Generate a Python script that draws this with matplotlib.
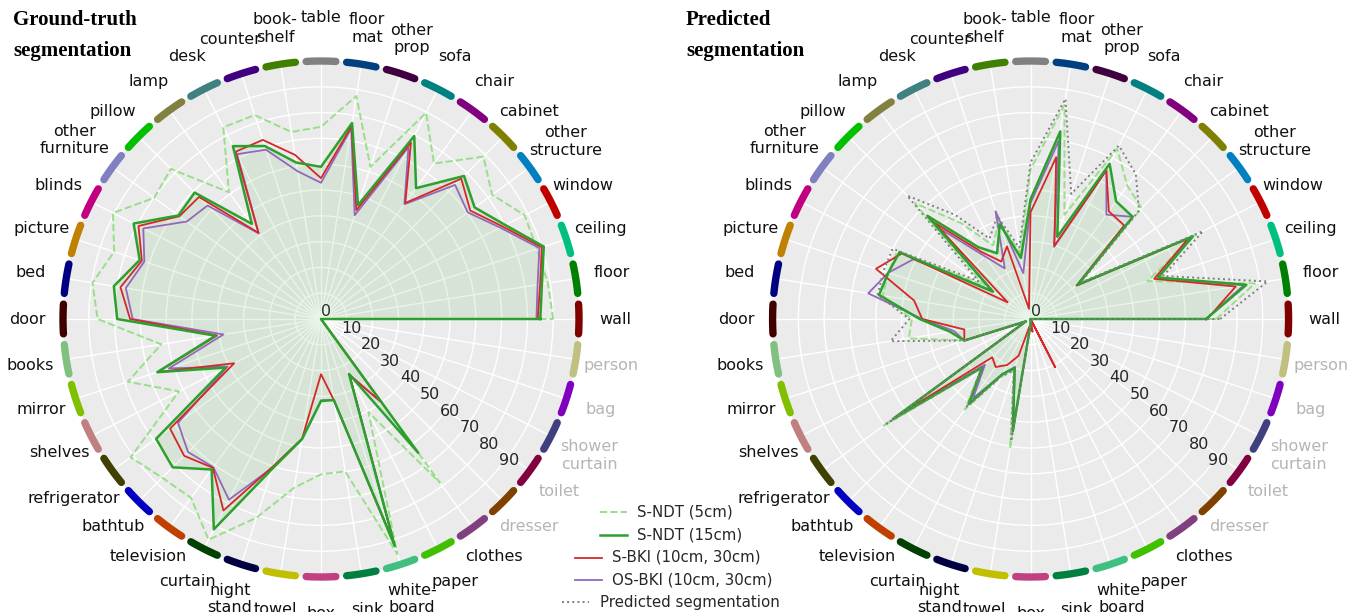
import numpy as np
import matplotlib.pyplot as plt

# 40 NYU classes, counter-clockwise from "wall" at 0 deg
categories = ["wall", "floor", "ceiling", "window", "other\nstructure", "cabinet", "chair",
              "sofa", "other\nprop", "floor\nmat", "table", "book-\nshelf", "counter", "desk",
              "lamp", "pillow", "other\nfurniture", "blinds", "picture", "bed", "door", "books",
              "mirror", "shelves", "refrigerator", "bathtub", "television", "curtain",
              "night\nstand", "towel", "box", "sink", "white-\nboard", "paper", "clothes",
              "dresser", "toilet", "shower\ncurtain", "bag", "person"]
absent = ["dresser", "toilet", "shower\ncurtain", "bag", "person"]

class_colors = ["#800000", "#008000", "#00c080", "#c00000", "#0080c0", "#808000", "#800080",
                "#008080", "#400040", "#004080", "#808080", "#408000", "#400080", "#408080",
                "#808040", "#00c000", "#8080c0", "#c00080", "#c08000", "#000080", "#400000",
                "#80c080", "#80c000", "#c08080", "#404000", "#0000c0", "#c04000", "#004000",
                "#000040", "#c0c000", "#c04080", "#008040", "#40c080", "#40c000", "#804080",
                "#804000", "#800040", "#404080", "#8000c0", "#c0c080"]

# ground-truth segmentation
gt_ndt5 = [90, 89, 88, 88.6, 82, 89, 74.5, 89.7, 62, 87.5, 74.5, 73.4, 83.1, 83.4, 60.7, 82.3,
           79.9, 90.5, 84.3, 89.7, 86.6, 62.7, 78.7, 61.8, 91.2, 87, 85.7, 96, 81, 66.2, 60.2,
           59.8, 95.8, 40.5, 78.4, 0, 0, 0, 0, 0]
gt_ndt15 = [85, 86.7, 90.8, 80.2, 73.6, 78.4, 62.7, 79.6, 46.4, 76.9, 59, 61.4, 70.5, 75.2, 45.6,
            69.3, 68.3, 81.5, 73.9, 81.3, 79, 41.4, 66.7, 41.5, 79, 81.3, 72.1, 91.5, 61, 47.2,
            31.8, 31.8, 92.5, 23.9, 64.1, 0, 0, 0, 0, 0]
gt_sbki = [84, 86, 90, 79, 71.5, 76.9, 55.6, 76.8, 44.4, 75.7, 54.6, 64.4, 73, 72.8, 41.3, 66.9,
           67.8, 79.4, 73, 78.7, 74, 40.8, 66.5, 37.8, 72.3, 75, 71.3, 83.3, 60, 47, 21.4, 31.8,
           92, 24.3, 40, 0, 0, 0, 0, 0]
gt_osbki = [83.5, 85, 89, 78, 70.3, 73.5, 55, 74.7, 42.3, 74.7, 52.8, 58, 69, 71.7, 41, 62.2,
            64.3, 77.3, 72, 76.6, 73, 38.3, 62, 40.6, 68.5, 72.9, 71, 78.6, 60.5, 47, 31.5, 31.8,
            91.5, 24.3, 40, 0, 0, 0, 0, 0]

# predicted segmentation
pr_ndt5 = [72, 88, 47.6, 72, 23, 60.8, 63.8, 74, 42.5, 84, 58, 26, 40, 32, 46, 63.5, 22, 58,
           58, 58, 46, 47.8, 27, 2, 71, 27, 43.4, 25, 21, 50.8, 2, 0, 0, 0, 0, 0, 0, 0, 0, 0]
pr_ndt15 = [68, 84.7, 52, 70.5, 22.6, 56, 56.4, 67.5, 33.5, 73.6, 46.5, 24, 38.6, 28.6, 34.4,
            56.6, 18, 57, 58, 59.5, 43, 31.6, 27, 2, 65.9, 26.5, 40.8, 24, 20, 44, 2, 0, 0, 0, 0,
            0, 0, 0, 0, 0]
pr_sbki = [68.5, 80.5, 50.4, 68.5, 22, 51.3, 51.6, 64.7, 29.8, 63.5, 41.4, 4, 29.6, 25, 32,
           52.8, 11, 56, 63, 45.7, 42, 26, 27, 2, 63.9, 21, 23, 20, 15, 3, 3, 5, 0, 21, 0, 0, 0,
           0, 0, 0]
pr_osbki = [68, 83.7, 52, 70, 22.6, 56, 50, 64.7, 29.4, 70, 45, 18, 43.9, 22, 30, 49.4, 19, 51,
            58, 63.7, 42, 30, 27, 2, 65, 25, 38, 24, 19.5, 44, 2, 0, 0, 0, 0, 0, 0, 0, 0, 0]
pr_pred = [73.5, 93, 54, 75, 24, 59.4, 69.4, 75.4, 51, 86.4, 60.7, 28, 42, 35, 50, 67.6, 25, 60,
           60, 60, 47, 54.9, 27, 2, 69, 27, 42, 25, 21, 48, 2, 0, 0, 0, 0, 0, 0, 0, 0, 0]

series_style = {
    "S-NDT (5cm)": dict(color="#98df8a", ls="--", lw=1.4),
    "S-NDT (15cm)": dict(color="#2ca02c", ls="-", lw=1.8),
    "S-BKI (10cm, 30cm)": dict(color="#d62728", ls="-", lw=1.3),
    "OS-BKI (10cm, 30cm)": dict(color="#9467bd", ls="-", lw=1.3),
    "Predicted segmentation": dict(color="#7f7f7f", ls=":", lw=1.4),
}

# wide labels sit a little further out
label_r = {"table": 117, "refrigerator": 118.3, "other\nfurniture": 117.9,
           "other\nstructure": 117, "shower\ncurtain": 116.7}

theta = np.deg2rad(np.arange(len(categories)) * 9.0)
theta_c = np.append(theta, 2 * np.pi)


def closed(v):
    return np.append(v, v[0])


def radar(ax, data):
    ax.set_facecolor("#ebebeb")
    ax.set_ylim(0, 100)
    ax.set_yticks(np.arange(0, 100, 10))
    ax.set_yticklabels([str(v) for v in range(0, 100, 10)], fontsize=11.5, color="#262626")
    ax.set_rlabel_position(-40)
    ax.set_xticks(theta)
    ax.set_xticklabels([])
    ax.tick_params(length=0)
    ax.grid(color="white", lw=1.0)
    ax.spines["polar"].set_visible(False)

    for t, name in zip(theta, categories):
        col = "#b5b5b5" if name in absent else "#111111"
        ax.text(t, label_r.get(name, 114), name, ha="center", va="center", fontsize=11.5,
                color=col, clip_on=False)

    # light fill under S-NDT (15cm)
    ax.fill(theta_c, closed(data["S-NDT (15cm)"]), color="#2ca02c", alpha=0.1, lw=0, zorder=2)
    order = ["S-NDT (5cm)", "OS-BKI (10cm, 30cm)", "S-BKI (10cm, 30cm)", "S-NDT (15cm)",
             "Predicted segmentation"]
    for name in order:
        if name in data:
            ax.plot(theta_c, closed(data[name]), zorder=3, **series_style[name])

    # coloured class arcs on the rim
    half = np.deg2rad(3.3)
    for t, c in zip(theta, class_colors):
        tt = np.linspace(t - half, t + half, 25)
        ax.plot(tt, np.full_like(tt, 100), color=c, lw=5.3, solid_capstyle="round",
                clip_on=False, zorder=5)


fig = plt.figure(figsize=(13.57, 6.12), dpi=100)
ax1 = fig.add_axes([0.0464, 0.0572, 0.3803, 0.8431], projection="polar")
ax2 = fig.add_axes([0.5693, 0.0572, 0.3803, 0.8431], projection="polar")

radar(ax1, {"S-NDT (5cm)": gt_ndt5, "S-NDT (15cm)": gt_ndt15,
            "S-BKI (10cm, 30cm)": gt_sbki, "OS-BKI (10cm, 30cm)": gt_osbki})
radar(ax2, {"S-NDT (5cm)": pr_ndt5, "S-NDT (15cm)": pr_ndt15,
            "S-BKI (10cm, 30cm)": pr_sbki, "OS-BKI (10cm, 30cm)": pr_osbki,
            "Predicted segmentation": pr_pred})

W, H = 1357, 612
title_kw = dict(family="Liberation Serif", weight="bold", fontsize=15, color="black")
fig.text(13 / W, 1 - 25 / H, "Ground-truth", **title_kw)
fig.text(13 / W, 1 - 56 / H, "segmentation", **title_kw)
fig.text(686 / W, 1 - 25 / H, "Predicted", **title_kw)
fig.text(686 / W, 1 - 56 / H, "segmentation", **title_kw)

# legend rows, centred between the two charts
legend_rows = [("S-NDT (5cm)", 600, 637, 512), ("S-NDT (15cm)", 600, 637, 535),
               ("S-BKI (10cm, 30cm)", 575, 612, 557.5), ("OS-BKI (10cm, 30cm)", 575, 612, 580),
               ("Predicted segmentation", 562, 600, 602)]
for name, hx, tx, y in legend_rows:
    st = series_style[name]
    fig.add_artist(plt.Line2D([hx / W, (hx + 27) / W], [1 - y / H, 1 - y / H],
                              transform=fig.transFigure, **st))
    fig.text(tx / W, 1 - y / H, name, fontsize=10.8, color="#262626", va="center")

fig.savefig("out.png", dpi=100)
